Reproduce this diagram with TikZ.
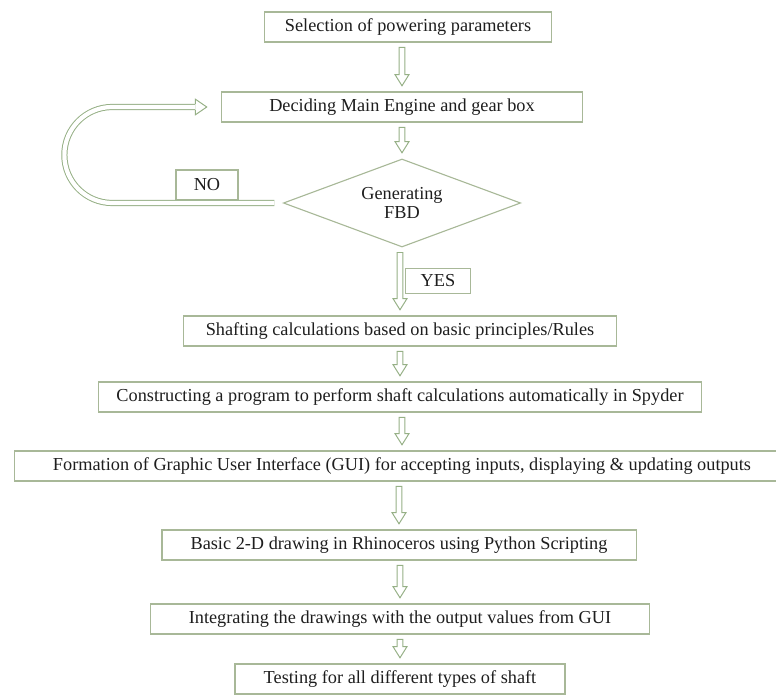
\documentclass[tikz,border=0pt]{standalone}
\usepackage{fontspec}
\setmainfont{Liberation Serif}
\usetikzlibrary{shapes.geometric,calc}
\definecolor{boxc}{RGB}{168,184,152}
\definecolor{arrowc}{RGB}{150,176,134}
\definecolor{txtc}{RGB}{30,30,30}
\tikzset{
  stepbox/.style={draw=boxc, line width=0.8pt, minimum height=0.75cm, inner sep=2pt,
    text=txtc, font=\fontsize{13}{16}\selectfont},
  decision/.style={stepbox, diamond, aspect=2.7, inner sep=0pt, align=center,
    font=\fontsize{13}{13.5}\selectfont},
  hollow/.style={draw=arrowc, line width=0.7pt, fill=white, to path={
    let \p1=(\tikztostart.south), \p2=(\tikztotarget.north) in
    (\x2-2.1pt,\y1-3.5pt) -- (\x2-2.1pt,\y2+12pt) -- (\x2-5pt,\y2+12pt) -- (\x2,\y2+4pt)
    -- (\x2+5pt,\y2+12pt) -- (\x2+2.1pt,\y2+12pt) -- (\x2+2.1pt,\y1-3.5pt) -- cycle}},
  loopline/.style={draw=arrowc, line width=0.7pt, double=white, double distance=3pt,
    rounded corners=34pt}
}
\begin{document}
\begin{tikzpicture}[x=0.025cm, y=-0.025cm]
        \useasboundingbox (0,0) rectangle (776,695);
        % the steps
        \node[stepbox, minimum width=7.18cm]  (select) at (408,27)  {Selection of powering parameters};
        \node[stepbox, minimum width=9.03cm]  (engine) at (402,107) {Deciding Main Engine and gear box};
        \node[decision, minimum width=5.93cm, minimum height=2.2cm] (fbd) at (402,203) {Generating\\FBD};
        \node[stepbox, minimum width=10.83cm] (rules)  at (400,331) {Shafting calculations based on basic principles/Rules};
        \node[stepbox, minimum width=15.08cm] (spyder) at (400,397) {Constructing a program to perform shaft calculations automatically in Spyder};
        \node[stepbox, minimum width=19.38cm] (gui)    at (402,466) {Formation of Graphic User Interface (GUI) for accepting inputs, displaying \& updating outputs};
        \node[stepbox, minimum width=11.85cm] (rhino)  at (399,545) {Basic 2-D drawing in Rhinoceros using Python Scripting};
        \node[stepbox, minimum width=12.48cm] (merge)  at (400,619) {Integrating the drawings with the output values from GUI};
        \node[stepbox, minimum width=8.25cm]  (test)   at (400,679) {Testing for all different types of shaft};
        % the answers
        \node[stepbox, minimum width=1.55cm] (no)  at (207,185) {NO};
        \node[stepbox, minimum width=1.63cm, minimum height=0.63cm] (yes) at (438,281) {YES};
        % hollow arrows down the chart
        \draw[hollow] (select) to (engine);
        \draw[hollow] (engine) to (fbd);
        \draw[hollow] (fbd) to (rules);
        \draw[hollow] (rules) to (spyder);
        \draw[hollow] (spyder) to (gui);
        \draw[hollow] (gui) to (rhino);
        \draw[hollow] (rhino) to (merge);
        \draw[hollow] (merge) to (test);
        % the NO loop back to the engine box
        \coordinate (tip) at ([xshift=-10pt]engine.west);
        \draw[loopline] ([xshift=-6pt]fbd.west) -- ++(-210,0) |- ([xshift=-8pt]tip);
        \draw[draw=arrowc, line width=0.7pt] ([shift={(-8pt,2.2pt)}]tip) -- ++(0,3.3pt) -- (tip)
          -- ([shift={(-8pt,-5.5pt)}]tip) -- ++(0,3.3pt);
      \end{tikzpicture}
\end{document}
